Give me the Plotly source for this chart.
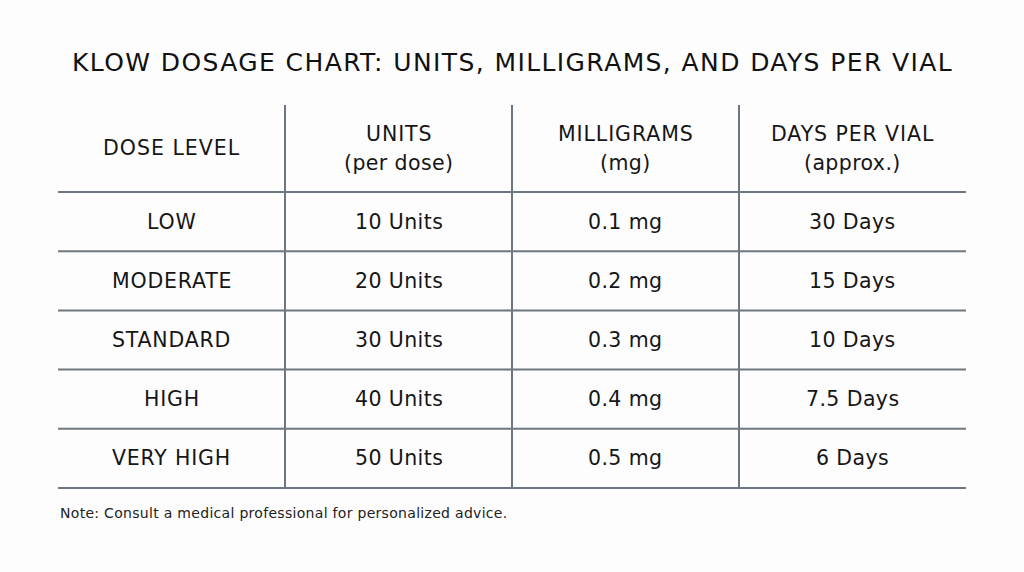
import plotly.graph_objects as go

# table content
title = "KLOW DOSAGE CHART: UNITS, MILLIGRAMS, AND DAYS PER VIAL"
header_top = ["DOSE LEVEL", "UNITS", "MILLIGRAMS", "DAYS PER VIAL"]
header_sub = ["", "(per dose)", "(mg)", "(approx.)"]
dose_levels = ["LOW", "MODERATE", "STANDARD", "HIGH", "VERY HIGH"]
units = ["10 Units", "20 Units", "30 Units", "40 Units", "50 Units"]
milligrams = ["0.1 mg", "0.2 mg", "0.3 mg", "0.4 mg", "0.5 mg"]
days_per_vial = ["30 Days", "15 Days", "10 Days", "7.5 Days", "6 Days"]
note = "Note: Consult a medical professional for personalized advice."

columns = [dose_levels, units, milligrams, days_per_vial]
n_cols = len(columns)
n_rows = len(dose_levels)

FONT = "DejaVu Sans"
TEXT = "#161616"
LINE = "#6e777f"


def spaced(s, px):
    # widen letters a little, the original font is broader
    return '<span style="letter-spacing:%spx">%s</span>' % (px, s)


fig = go.Figure()

# x in column units (0..4), y in row units (0 = line under header)
fig.add_trace(go.Scatter(x=[0, n_cols], y=[0, n_rows], mode="markers",
                         marker=dict(opacity=0), hoverinfo="skip",
                         showlegend=False))

ann = []
# header cells
for c in range(n_cols):
    if header_sub[c]:
        ann.append(dict(x=c + 0.5, y=-0.98, text=spaced(header_top[c], 0.9)))
        ann.append(dict(x=c + 0.5, y=-0.49, text=spaced(header_sub[c], 0.4)))
    else:
        ann.append(dict(x=c + 0.5, y=-0.735, text=spaced(header_top[c], 1.0)))

# body cells
for c, col in enumerate(columns):
    for r, val in enumerate(col):
        txt = spaced(val, 0.8) if c == 0 else spaced(val, 0.4)
        ann.append(dict(x=c + 0.5, y=r + 0.5, text=txt))

for a in ann:
    a.update(xref="x", yref="y", showarrow=False,
             font=dict(family=FONT, size=20.5, color=TEXT))

# title and note
ann.append(dict(x=n_cols / 2, y=-2.18, xref="x", yref="y",
                text=spaced(title, 1.4), showarrow=False,
                font=dict(family=FONT, size=25, color="#111")))
ann.append(dict(x=0, y=5.42, xref="x", yref="y", text=spaced(note, 0.3),
                xanchor="left", showarrow=False,
                font=dict(family=FONT, size=14, color="#222")))

shapes = []
# horizontal rules
for r in range(n_rows + 1):
    shapes.append(dict(type="line", x0=0, x1=n_cols, y0=r, y1=r,
                       xref="x", yref="y", line=dict(color=LINE, width=2)))
# inner vertical rules
for c in range(1, n_cols):
    shapes.append(dict(type="line", x0=c, x1=c, y0=-1.47, y1=n_rows,
                       xref="x", yref="y", line=dict(color=LINE, width=2)))

fig.update_layout(
    width=1024, height=572,
    margin=dict(l=0, r=0, t=0, b=0),
    paper_bgcolor="#f9fbfc",
    plot_bgcolor="#fdfdfe",
    annotations=ann,
    shapes=shapes,
    showlegend=False,
    xaxis=dict(range=[-0.2555, 4.2555], visible=False, fixedrange=True),
    yaxis=dict(range=[6.419, -3.243], visible=False, fixedrange=True),
)

fig.write_html("out.html", config={"displayModeBar": False},
               post_script="document.body.style.margin='0';")
